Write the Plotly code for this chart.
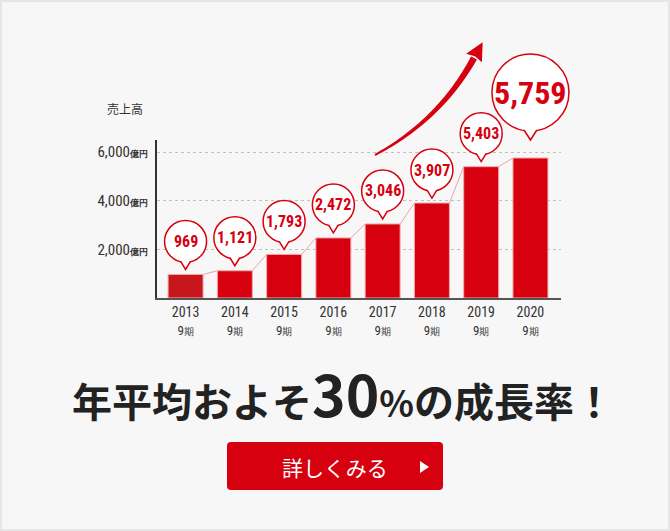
import numpy as np
import plotly.graph_objects as go

# ---------------- data ----------------
years = ["2013", "2014", "2015", "2016", "2017", "2018", "2019", "2020"]
period_label = "9期"
sales = [969, 1121, 1793, 2472, 3046, 3907, 5403, 5759]
sales_labels = ["969", "1,121", "1,793", "2,472", "3,046", "3,907", "5,403", "5,759"]
y_tick_vals = [2000, 4000, 6000]
y_tick_labels = ["2,000", "4,000", "6,000"]
unit_label = "億円"
axis_title = "売上高"
headline_a = "年平均およそ"
headline_num = "30"
headline_pct = "%"
headline_b = "の成長率！"
button_text = "詳しくみる"

# ---------------- style / geometry ----------------
W, H = 670, 531
L, R, T, B = 157, 561, 140, 298
XR = (-0.58, 7.62)
YR = (0, 6500)
RED = "#d7000f"
RED_FIRST = "#c8161d"
COND = "Roboto Condensed, Liberation Sans Narrow, DejaVu Sans Condensed, Roboto, sans-serif"
JP = "Noto Sans CJK JP, Noto Sans, sans-serif"
BAR_W = 0.71


def xp(px):
    return (px - L) / (R - L)


def yp(py):
    return (B - py) / (B - T)


def cat_paper(i):
    return (i - XR[0]) / (XR[1] - XR[0])


def val_paper(v):
    return (v - YR[0]) / (YR[1] - YR[0])


n = len(years)
xs = list(range(n))

fig = go.Figure()

# connecting lines between bar tops
lx, ly = [], []
for i in range(n - 1):
    lx += [xs[i] + BAR_W / 2, xs[i + 1] - BAR_W / 2, None]
    ly += [sales[i], sales[i + 1], None]
fig.add_trace(go.Scatter(x=lx, y=ly, mode="lines", line=dict(color="#f0a3a6", width=1),
                         hoverinfo="skip", showlegend=False))

colors = [RED_FIRST] + [RED] * (n - 1)
fig.add_trace(go.Bar(x=xs, y=sales, width=BAR_W,
                     marker=dict(color=colors, line=dict(color="#f2a9ac", width=1)),
                     hoverinfo="skip", showlegend=False))

shapes = []
annotations = []

# figure border
shapes.append(dict(type="rect", xref="paper", yref="paper",
                   x0=xp(1), x1=xp(W - 1), y0=yp(H - 1), y1=yp(1),
                   line=dict(color="#e6e6e6", width=2), fillcolor="rgba(0,0,0,0)", layer="below"))

# speech bubbles
for i in range(n):
    big = (i == n - 1)
    if big:
        r, cb, tip, hw, fs = 38.5, 27, 18, 7, 32
    else:
        r, cb, tip, hw, fs = 21, 12, 5, 5.5, 16
    ax, ay = cat_paper(xs[i]), val_paper(sales[i])
    common = dict(xref="paper", yref="paper", xsizemode="pixel", ysizemode="pixel",
                  xanchor=ax, yanchor=ay, layer="above")
    shapes.append(dict(type="circle", x0=-r, x1=r, y0=cb, y1=cb + 2 * r,
                       fillcolor="white", line=dict(color=RED, width=1.5), **common))
    shapes.append(dict(type="path",
                       path=f"M {-hw},{cb + 3} L 0,{tip} L {hw},{cb + 3} Z",
                       fillcolor="white", line=dict(width=0), **common))
    shapes.append(dict(type="path",
                       path=f"M {-hw + 0.6},{cb + 1} L 0,{tip} L {hw - 0.6},{cb + 1}",
                       line=dict(color=RED, width=1.5), **common))
    annotations.append(dict(xref="x", yref="y", x=xs[i], y=sales[i], yshift=cb + r,
                            text=f"<b>{sales_labels[i]}</b>", showarrow=False,
                            font=dict(family=COND, size=fs, color=RED),
                            xanchor="center", yanchor="middle"))

# growth arrow (decorative)
P0 = np.array([375.0, 155.0])
C = np.array([440.0, 120.0])
P2 = np.array([474.0, 58.0])
ts = np.linspace(0, 1, 40)
left, right = [], []
for t in ts:
    p = (1 - t) ** 2 * P0 + 2 * (1 - t) * t * C + t ** 2 * P2
    d = 2 * (1 - t) * (C - P0) + 2 * t * (P2 - C)
    d = d / np.linalg.norm(d)
    nrm = np.array([-d[1], d[0]])
    w = 1.0 + 2.3 * t
    left.append(p + nrm * w)
    right.append(p - nrm * w)
poly = left + right[::-1]
path = "M " + " L ".join(f"{xp(q[0]):.5f},{yp(q[1]):.5f}" for q in poly) + " Z"
shapes.append(dict(type="path", xref="paper", yref="paper", path=path,
                   fillcolor=RED, line=dict(width=0), layer="above"))
d = (P2 - C) / np.linalg.norm(P2 - C)
nrm = np.array([-d[1], d[0]])
tipp = P2 + d * 18
ca = P2 + nrm * 9
cb_ = P2 - nrm * 9
notch = P2 + d * 2
hp = [ca, tipp, cb_, notch]
path = "M " + " L ".join(f"{xp(q[0]):.5f},{yp(q[1]):.5f}" for q in hp) + " Z"
shapes.append(dict(type="path", xref="paper", yref="paper", path=path,
                   fillcolor=RED, line=dict(width=0), layer="above"))

# axis title
annotations.append(dict(xref="paper", yref="paper", x=xp(125), y=yp(108),
                        text=axis_title, showarrow=False,
                        font=dict(family=JP, size=12, color="#333333"),
                        xanchor="center", yanchor="middle"))

# headline
annotations.append(dict(xref="paper", yref="paper", x=xp(343), y=yp(392),
                        text=(f"{headline_a}<span style='font-size:57px'>{headline_num}</span>"
                              f"<span style='font-size:36px'>{headline_pct}</span>{headline_b}"),
                        showarrow=False,
                        font=dict(family=JP, size=40, color="#222222", weight=700),
                        xanchor="center", yanchor="middle"))

# button
bx0, bx1, by0, by1, rr = 227, 443, 442, 490, 4
bpath = (f"M {xp(bx0 + rr)},{yp(by0)} L {xp(bx1 - rr)},{yp(by0)} "
         f"Q {xp(bx1)},{yp(by0)} {xp(bx1)},{yp(by0 + rr)} L {xp(bx1)},{yp(by1 - rr)} "
         f"Q {xp(bx1)},{yp(by1)} {xp(bx1 - rr)},{yp(by1)} L {xp(bx0 + rr)},{yp(by1)} "
         f"Q {xp(bx0)},{yp(by1)} {xp(bx0)},{yp(by1 - rr)} L {xp(bx0)},{yp(by0 + rr)} "
         f"Q {xp(bx0)},{yp(by0)} {xp(bx0 + rr)},{yp(by0)} Z")
shapes.append(dict(type="path", xref="paper", yref="paper", path=bpath,
                   fillcolor=RED, line=dict(width=0), layer="above"))
tri = f"M {xp(420)},{yp(461)} L {xp(429)},{yp(467)} L {xp(420)},{yp(473)} Z"
shapes.append(dict(type="path", xref="paper", yref="paper", path=tri,
                   fillcolor="white", line=dict(width=0), layer="above"))
annotations.append(dict(xref="paper", yref="paper", x=xp(335), y=yp(467),
                        text=button_text, showarrow=False,
                        font=dict(family=JP, size=21, color="white"),
                        xanchor="center", yanchor="middle"))

x_ticktext = [f"{y}<br><span style='font-size:13px'>9<span style='font-size:10px'>期</span></span>"
              for y in years]
y_ticktext = [f"{t}<b><span style='font-size:9px'>{unit_label}</span></b>" for t in y_tick_labels]

fig.update_layout(
    width=W, height=H,
    margin=dict(l=L, r=W - R, t=T, b=H - B, pad=0),
    paper_bgcolor="#f7f7f7", plot_bgcolor="#f7f7f7",
    showlegend=False,
    xaxis=dict(range=list(XR), tickvals=xs, ticktext=x_ticktext, showgrid=False,
               zeroline=False, showline=True, linecolor="#555555", linewidth=2,
               ticks="", ticklabelstandoff=0,
               tickfont=dict(family=COND, size=14, color="#333333"), fixedrange=True),
    yaxis=dict(range=list(YR), tickvals=y_tick_vals, ticktext=y_ticktext,
               showgrid=True, gridcolor="#c0c0c0", griddash="dot", gridwidth=1,
               zeroline=False, showline=True, linecolor="#333333", linewidth=2,
               ticks="", ticklabelstandoff=4,
               tickfont=dict(family=COND, size=15, color="#333333"), fixedrange=True),
    shapes=shapes,
    annotations=annotations,
    font=dict(family=COND),
)

fig.write_html("out.html")
